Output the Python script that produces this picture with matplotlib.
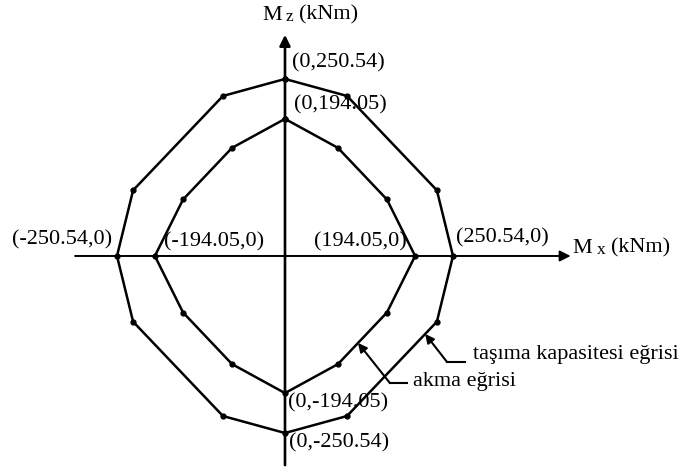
import matplotlib
matplotlib.use('Agg')
import matplotlib.pyplot as plt
import numpy as np

plt.rcParams['font.family'] = ['Liberation Serif', 'DejaVu Serif']

# taşıma kapasitesi eğrisi (dış) ve akma eğrisi (iç) köşe noktaları, kNm
outer_mx = [0, 92.5, 226.5, 250.54, 226.5, 92.5, 0, -92.5, -226.5, -250.54, -226.5, -92.5]
outer_mz = [250.54, 226.5, 93, 0, -93, -226.5, -250.54, -226.5, -93, 0, 93, 226.5]
yield_mx = [0, 79, 152, 194.05, 152, 79, 0, -79, -152, -194.05, -152, -79]
yield_mz = [194.05, 153, 80, 0, -80, -153, -194.05, -153, -80, 0, 80, 153]

fig = plt.figure(figsize=(6.99, 4.71), dpi=100)
ax = fig.add_axes([0, 0, 1, 1])
ax.set_xlim(-425, 617.4)
ax.set_ylim(-304.3, 362.3)
ax.axis('off')

# eksenler
arrow = dict(arrowstyle='-|>', lw=1.4, color='k', mutation_scale=16,
             shrinkA=0, shrinkB=0)
ax.annotate('', xy=(426, 0), xytext=(-313, 0), arrowprops=arrow)
ax.annotate('', xy=(0, 313), xytext=(0, -296), arrowprops=dict(arrow, lw=1.9))
ax.text(429, 11, 'M', fontsize=16, va='center')
ax.text(465, 8, 'x', fontsize=12.5, va='center')
ax.text(486, 11, '(kNm)', fontsize=16, va='center')
ax.text(-34, 341, 'M', fontsize=16, va='center')
ax.text(1.5, 338, 'z', fontsize=12.5, va='center')
ax.text(21, 341, '(kNm)', fontsize=16, va='center')

# eğriler
for mx, mz in [(outer_mx, outer_mz), (yield_mx, yield_mz)]:
    ax.plot(mx + mx[:1], mz + mz[:1], color='k', lw=1.8, marker='o',
            markersize=3.5, zorder=3)

# kesişim değerleri
fs = 16
ax.text(10, 273, '(0,%.2f)' % outer_mz[0], fontsize=fs, va='center')
ax.text(13, 214, '(0,%.2f)' % yield_mz[0], fontsize=fs, va='center')
ax.text(-258, 23, '(%.2f,0)' % outer_mx[9], fontsize=fs, va='center', ha='right')
ax.text(-181, 20, '(%.2f,0)' % yield_mx[9], fontsize=fs, va='center')
ax.text(43, 20, '(%.2f,0)' % yield_mx[3], fontsize=fs, va='center')
ax.text(255, 25, '(%.2f,0)' % outer_mx[3], fontsize=fs, va='center')
ax.text(4, -208, '(0,%.2f)' % yield_mz[6], fontsize=fs, va='center')
ax.text(6, -265, '(0,%.2f)' % outer_mz[6], fontsize=fs, va='center')

# açıklama okları
def on_segment(mx, mz, i, t):
    return (mx[i] + t * (mx[i + 1] - mx[i]), mz[i] + t * (mz[i + 1] - mz[i]))

leader = dict(arrowstyle='-|>', lw=1.5, color='k', mutation_scale=13,
              shrinkA=0, shrinkB=0)
tip = on_segment(outer_mx, outer_mz, 4, 0.13)
ax.annotate('', xy=tip, xytext=(241.6, -150), arrowprops=leader)
ax.plot([241.6, 268.4], [-150, -150], color='k', lw=1.5)
ax.text(280, -140, 'taşıma kapasitesi eğrisi', fontsize=fs, va='center')

tip = on_segment(yield_mx, yield_mz, 4, 0.59)
ax.annotate('', xy=tip, xytext=(156.6, -180), arrowprops=leader)
ax.plot([156.6, 182], [-180, -180], color='k', lw=1.5)
ax.text(191, -178, 'akma eğrisi', fontsize=fs, va='center')

fig.savefig('out.png', dpi=100)
